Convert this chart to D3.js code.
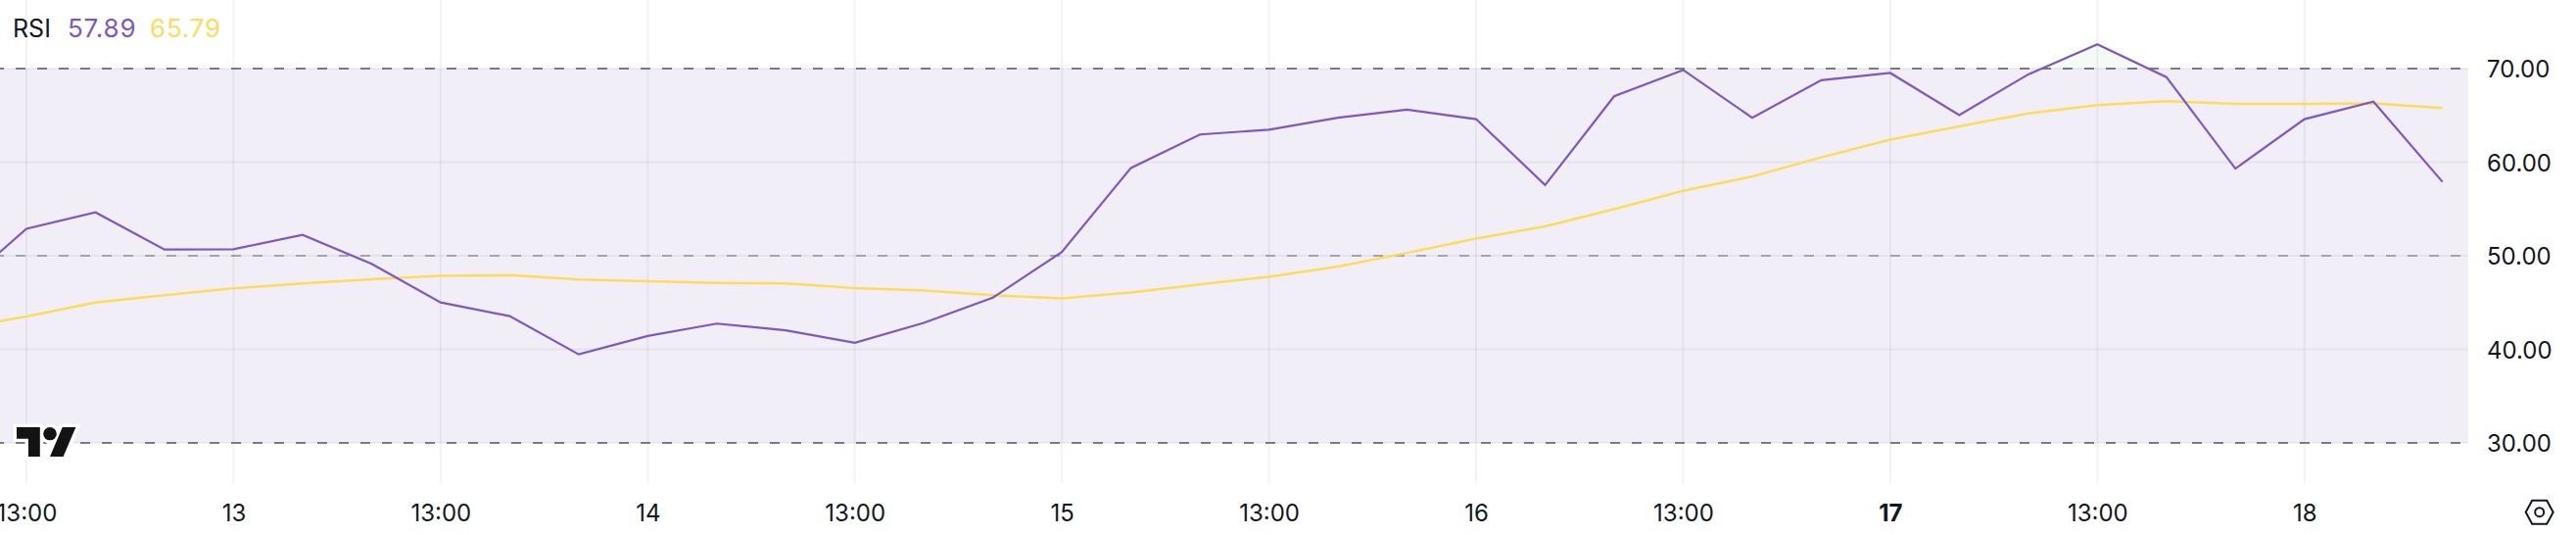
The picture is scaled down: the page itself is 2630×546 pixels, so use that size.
<!DOCTYPE html>
<html>
<head>
<meta charset="utf-8">
<script src="https://cdn.jsdelivr.net/npm/d3@7"></script>
<style>
  html, body { margin: 0; padding: 0; background: #fff; overflow: hidden; }
  text { font-family: Inter, sans-serif; }
</style>
</head>
<body>
<div id="canvas"></div>
<script>
"use strict";

// Data, one value per bar. The first bar sits just left of the visible area.
let bars = [-1, 0, 1, 2, 3, 4, 5, 6, 7, 8, 9, 10, 11, 12, 13, 14, 15, 16, 17,
  18, 19, 20, 21, 22, 23, 24, 25, 26, 27, 28, 29, 30, 31, 32, 33, 34, 35];
let rsi = [46.4, 52.89, 54.64, 50.66, 50.7, 52.23, 49.13, 45.01, 43.55, 39.46, 41.43,
  42.75, 42.02, 40.7, 42.82, 45.52, 50.41, 59.38, 62.96, 63.47, 64.75, 65.62, 64.6,
  57.56, 67.04, 69.85, 64.75, 68.76, 69.53, 65.04, 69.38, 72.59, 69.09, 59.31, 64.6,
  66.46, 57.89];
let rsiMa = [42.2, 43.51, 45.01, 45.78, 46.51, 47.05, 47.49, 47.85, 47.93, 47.45, 47.27,
  47.09, 47.05, 46.54, 46.29, 45.78, 45.45, 46.07, 46.94, 47.75, 48.84, 50.3, 51.83,
  53.14, 54.97, 56.94, 58.47, 60.51, 62.41, 63.83, 65.22, 66.1, 66.53, 66.24, 66.24,
  66.28, 65.79];
let xTickBars = [0, 3, 6, 9, 12, 15, 18, 21, 24, 27, 30, 33];
let xTickLabels = ["13:00", "13", "13:00", "14", "13:00", "15", "13:00", "16", "13:00", "17", "13:00", "18"];
let yTicks = [30, 40, 50, 60, 70];
let bandLevels = [30, 70];
let midLevel = 50;

let width = 2630;
let height = 546;
let paneRight = 2520;
let paneBottom = 493;

let svg = d3.select("#canvas")
  .append("svg")
  .attr("width", width)
  .attr("height", height)
  .style("display", "block");

// Scales
let xScale = d3.scaleLinear().domain([0, 35]).range([27, 2493.7]);
let yScale = d3.scaleLinear().domain([30, 70]).range([452, 70]);

// Band fill between 30 and 70
svg.append("rect")
  .attr("x", 0)
  .attr("y", yScale(70))
  .attr("width", paneRight)
  .attr("height", yScale(30) - yScale(70))
  .attr("fill", "#f1eef8");

// Grid
svg.selectAll(".vgrid")
  .data(xTickBars)
  .enter()
  .append("line")
  .attr("x1", d => xScale(d))
  .attr("x2", d => xScale(d))
  .attr("y1", 0)
  .attr("y2", paneBottom)
  .attr("stroke", "#2a2e39")
  .attr("stroke-opacity", 0.06)
  .attr("stroke-width", 2);

svg.selectAll(".hgrid")
  .data(yTicks)
  .enter()
  .append("line")
  .attr("x1", 0)
  .attr("x2", paneRight)
  .attr("y1", d => yScale(d))
  .attr("y2", d => yScale(d))
  .attr("stroke", "#2a2e39")
  .attr("stroke-opacity", 0.06)
  .attr("stroke-width", 2);

// Dashed levels
svg.selectAll(".band")
  .data(bandLevels)
  .enter()
  .append("line")
  .attr("x1", 0)
  .attr("x2", paneRight)
  .attr("y1", d => yScale(d))
  .attr("y2", d => yScale(d))
  .attr("stroke", "#787b86")
  .attr("stroke-width", 2)
  .attr("stroke-dasharray", "10 12")
  .attr("stroke-dashoffset", 6);

svg.append("line")
  .attr("x1", 0)
  .attr("x2", paneRight)
  .attr("y1", yScale(midLevel))
  .attr("y2", yScale(midLevel))
  .attr("stroke", "#787b86")
  .attr("stroke-opacity", 0.6)
  .attr("stroke-width", 2)
  .attr("stroke-dasharray", "10 12")
  .attr("stroke-dashoffset", 6);

// Faint green above 70 where RSI is overbought
svg.append("clipPath")
  .attr("id", "over")
  .append("rect")
  .attr("x", 0)
  .attr("y", 0)
  .attr("width", paneRight)
  .attr("height", yScale(70));

svg.append("path")
  .datum(rsi)
  .attr("clip-path", "url(#over)")
  .attr("fill", "#4caf50")
  .attr("fill-opacity", 0.06)
  .attr("d", d3.area()
    .x((d, i) => xScale(bars[i]))
    .y0(yScale(70))
    .y1(d => yScale(d)));

// Lines
let line = d3.line()
  .x((d, i) => xScale(bars[i]))
  .y(d => yScale(d));

svg.append("path")
  .datum(rsiMa)
  .attr("fill", "none")
  .attr("stroke", "#fddc5c")
  .attr("stroke-width", 2.5)
  .attr("d", line);

svg.append("path")
  .datum(rsi)
  .attr("fill", "none")
  .attr("stroke", "#7e57c2")
  .attr("stroke-width", 2.2)
  .attr("d", line);

// Axes
let xAxis = svg.append("g")
  .attr("transform", "translate(0, 523)")
  .call(d3.axisBottom(xScale)
    .tickValues(xTickBars)
    .tickFormat((d, i) => xTickLabels[i])
    .tickSize(0)
    .tickPadding(0));
xAxis.select(".domain").remove();
xAxis.selectAll("text")
  .attr("y", 0)
  .attr("dy", "0.36em")
  .attr("fill", "#131722")
  .style("font-size", "24px")
  .style("font-family", "Inter, sans-serif")
  .style("font-weight", (d, i) => xTickLabels[i] === "17" ? 700 : 400);

let yAxis = svg.append("g")
  .attr("transform", "translate(2539, 0)")
  .call(d3.axisRight(yScale)
    .tickValues(yTicks)
    .tickFormat(d3.format(".2f"))
    .tickSize(0)
    .tickPadding(0));
yAxis.select(".domain").remove();
yAxis.selectAll("text")
  .attr("x", 0)
  .attr("dy", "0.36em")
  .attr("fill", "#131722")
  .style("font-size", "24px")
  .style("font-family", "Inter, sans-serif");

// Legend
svg.append("text")
  .attr("x", 13)
  .attr("y", 38)
  .attr("fill", "#131722")
  .style("font-size", "25px")
  .text("RSI");

svg.append("text")
  .attr("x", 69)
  .attr("y", 38)
  .attr("fill", "#7e57c2")
  .style("font-size", "26px")
  .style("letter-spacing", "0.8px")
  .text(d3.format(".2f")(rsi[rsi.length - 1]));

svg.append("text")
  .attr("x", 153)
  .attr("y", 38)
  .attr("fill", "#fddc5c")
  .style("font-size", "26px")
  .style("letter-spacing", "0.8px")
  .text(d3.format(".2f")(rsiMa[rsiMa.length - 1]));

// TradingView mark
let logo = svg.append("g")
  .attr("transform", "translate(17, 429.3) scale(1.7, 1.67)");
logo.append("circle")
  .attr("cx", 20)
  .attr("cy", 8)
  .attr("r", 4)
  .attr("fill", "#fff")
  .attr("stroke", "#fff")
  .attr("stroke-width", 4);
logo.append("path")
  .attr("d", "M14 22H7V11H0V4h14v18zM28 22h-8l7.5-18h8L28 22z")
  .attr("fill", "#131313")
  .attr("stroke", "#fff")
  .attr("stroke-width", 4)
  .attr("paint-order", "stroke");
logo.append("circle")
  .attr("cx", 20)
  .attr("cy", 8)
  .attr("r", 4)
  .attr("fill", "#131313");

// Settings icon
let gear = svg.append("g")
  .attr("transform", "translate(2592.7, 522.7)")
  .attr("fill", "none")
  .attr("stroke", "#131722")
  .attr("stroke-width", 2);
gear.append("path").attr("d", "M-14 0L-7.5 -12H7.5L14 0L7.5 12H-7.5Z");
gear.append("circle").attr("r", 4.5);
</script>
</body>
</html>
